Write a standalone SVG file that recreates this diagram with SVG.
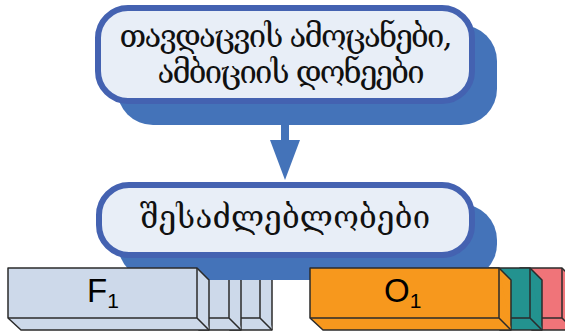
<svg xmlns="http://www.w3.org/2000/svg" width="565" height="333" viewBox="0 0 565 333">
<style>
.shadow{fill:#4473b9}
.node{fill:#e8eef7;stroke:#4462b1;stroke-width:6}
.ge{font-family:"DejaVu Serif","DejaVu Sans","Liberation Serif",serif;font-size:31px;fill:#111;text-anchor:middle}
.box{stroke:#2b2b2b;stroke-width:1.5;stroke-linejoin:round}
.fb{fill:#cdd9ea}
.ob{fill:#f7981d}
.tb{fill:#23928f}
.pb{fill:#f07479}
.lbl{font-family:"Liberation Sans",Arial,sans-serif;fill:#000}
</style>
<!-- boxes behind -->
<g id="box-pink">
<path class="box pb" d="M520,268 H562 L574,280 V330 H532 L520,318 Z"/>
<path class="box pb" d="M562,268 V318 L574,330 M520,318 H562"/>
</g>
<g id="box-teal">
<path class="box tb" d="M488,268 H530 L542,280 V330 H500 L488,318 Z"/>
<path class="box tb" d="M530,268 V318 L542,330 M488,318 H530"/>
</g>
<g id="box-f3">
<path class="box fb" d="M218,268 H260 L272,280 V330 H230 L218,318 Z"/>
<path class="box fb" d="M260,268 V318 L272,330 M218,318 H260"/>
</g>
<g id="box-f2">
<path class="box fb" d="M187,268 H229 L241,280 V330 H199 L187,318 Z"/>
<path class="box fb" d="M229,268 V318 L241,330 M187,318 H229"/>
</g>
<!-- shadows -->
<rect class="shadow" x="117" y="25" width="380" height="100" rx="36"/>
<rect class="shadow" x="118" y="204" width="379" height="76" rx="36"/>
<g id="connectors">
<path class="shadow" d="M281,124 H289 V140 H300 L285,180 L270,140 H281 Z"/>
</g>
<g id="box-f1">
<path class="box fb" d="M8,268 H197 L209,280 V330 H21 L8,318 Z"/>
<path class="box fb" d="M197,268 V318 L209,330 M8,318 H197"/>
<text class="lbl" x="87" y="302" font-size="33">F<tspan font-size="21" dy="6">1</tspan></text>
</g>
<g id="box-o1">
<path class="box ob" d="M310,268 H499 L511,280 V330 H323 L310,318 Z"/>
<path class="box ob" d="M499,268 V318 L511,330 M310,318 H499"/>
<text class="lbl" x="384" y="302" font-size="33">O<tspan font-size="21" dy="6">1</tspan></text>
</g>
<g id="node-top">
<rect class="node" x="98" y="8" width="374" height="93" rx="30"/>
<text class="ge" x="286" y="47" textLength="333" lengthAdjust="spacing">თავდაცვის  ამოცანები,</text>
<text class="ge" x="291" y="83" textLength="267" lengthAdjust="spacing">ამბიციის  დონეები</text>
</g>
<g id="node-bottom">
<rect class="node" x="99" y="185" width="373" height="70" rx="30"/>
<text class="ge" x="285" y="228" textLength="290" lengthAdjust="spacing">შესაძლებლობები</text>
</g>
</svg>
